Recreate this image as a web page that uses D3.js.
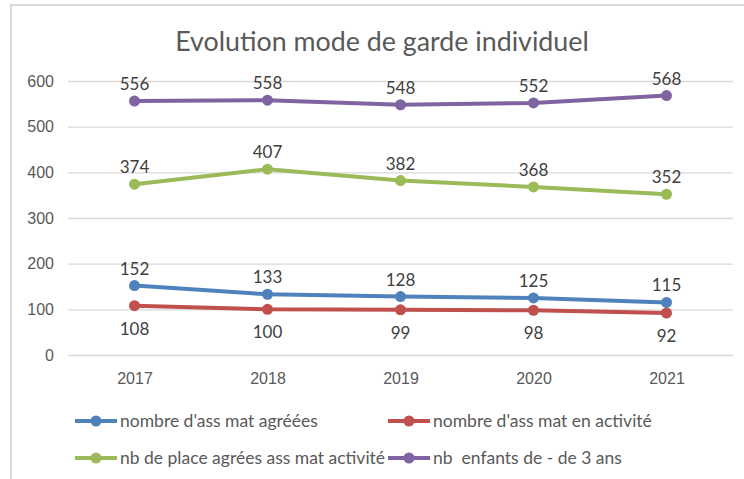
<!DOCTYPE html>
<html>
<head>
<meta charset="utf-8">
<script src="https://cdn.jsdelivr.net/npm/d3@7"></script>
<style>
  body { margin: 0; background: #fff; }
  svg { font-family: Lato, "Open Sans", sans-serif; }
</style>
</head>
<body>
<svg id="chart" width="744" height="479"></svg>
<script>
var years = ["2017", "2018", "2019", "2020", "2021"];
var agreees = [152, 133, 128, 125, 115];
var activite = [108, 100, 99, 98, 92];
var places = [374, 407, 382, 368, 352];
var enfants = [556, 558, 548, 552, 568];
var yTicks = [0, 100, 200, 300, 400, 500, 600];

var series = [
  {name: "nombre d'ass mat agréées", values: agreees, color: "#4F81BD", below: false},
  {name: "nombre d'ass mat en activité", values: activite, color: "#C0504D", below: true},
  {name: "nb de place agrées ass mat activité", values: places, color: "#9BBB59", below: false},
  {name: "nb  enfants de - de 3 ans", values: enfants, color: "#8064A2", below: false}
];

var svg = d3.select("#chart");

// chart frame
svg.append("rect")
  .attr("x", 11).attr("y", 5)
  .attr("width", 760).attr("height", 500)
  .attr("fill", "none")
  .attr("stroke", "#d9d9d9")
  .attr("stroke-width", 2);

var margin = {left: 68, right: 11, top: 81, bottom: 124};
var width = 744 - margin.left - margin.right,
    height = 479 - margin.top - margin.bottom;

var x = d3.scalePoint().domain(years).range([0, width]).padding(0.5);
var y = d3.scaleLinear().domain([0, 600]).range([height, 0]);

var g = svg.append("g")
  .attr("transform", "translate(" + margin.left + "," + margin.top + ")");

svg.append("text")
  .attr("x", 382).attr("y", 51)
  .attr("text-anchor", "middle")
  .attr("fill", "#595959")
  .style("font-size", "26.8px")
  .text("Evolution mode de garde individuel");

// gridlines
var yAxis = d3.axisLeft(y).tickValues(yTicks).tickSize(-width).tickPadding(14);
var ya = g.append("g").call(yAxis);
ya.select(".domain").remove();
ya.selectAll("line").attr("stroke", "#d9d9d9").attr("stroke-width", 1.3);
ya.selectAll("text").attr("fill", "#595959").style("font-size", "16px");

var xAxis = d3.axisBottom(x).tickSize(0).tickPadding(18);
var xa = g.append("g").attr("transform", "translate(0," + height + ")").call(xAxis);
xa.select(".domain").remove();
xa.selectAll("text").attr("fill", "#595959").style("font-size", "16px");

var line = d3.line()
  .x(function (d, i) { return x(years[i]); })
  .y(function (d) { return y(d); });

series.forEach(function (s) {
  g.append("path")
    .datum(s.values)
    .attr("d", line)
    .attr("fill", "none")
    .attr("stroke", s.color)
    .attr("stroke-width", 4)
    .attr("stroke-linejoin", "round");

  g.selectAll(null).data(s.values).enter().append("circle")
    .attr("cx", function (d, i) { return x(years[i]); })
    .attr("cy", function (d) { return y(d); })
    .attr("r", 5.5)
    .attr("fill", s.color);

  g.selectAll(null).data(s.values).enter().append("text")
    .attr("x", function (d, i) { return x(years[i]); })
    .attr("y", function (d) { return s.below ? y(d) + 29 : y(d) - 11; })
    .attr("text-anchor", "middle")
    .attr("fill", "#404040")
    .style("font-size", "17px")
    .text(function (d) { return d; });
});

// legend
var legendPos = [[75, 421], [388, 421], [75, 458], [388, 458]];
series.forEach(function (s, i) {
  var lg = svg.append("g")
    .attr("transform", "translate(" + legendPos[i][0] + "," + legendPos[i][1] + ")");
  lg.append("line")
    .attr("x1", 0).attr("x2", 42)
    .attr("stroke", s.color).attr("stroke-width", 4);
  lg.append("circle").attr("cx", 21).attr("r", 5.5).attr("fill", s.color);
  lg.append("text")
    .attr("x", 45).attr("dy", "0.35em")
    .attr("fill", "#595959")
    .style("font-size", "17.5px")
    .style("white-space", "pre")
    .text(s.name);
});
</script>
</body>
</html>
